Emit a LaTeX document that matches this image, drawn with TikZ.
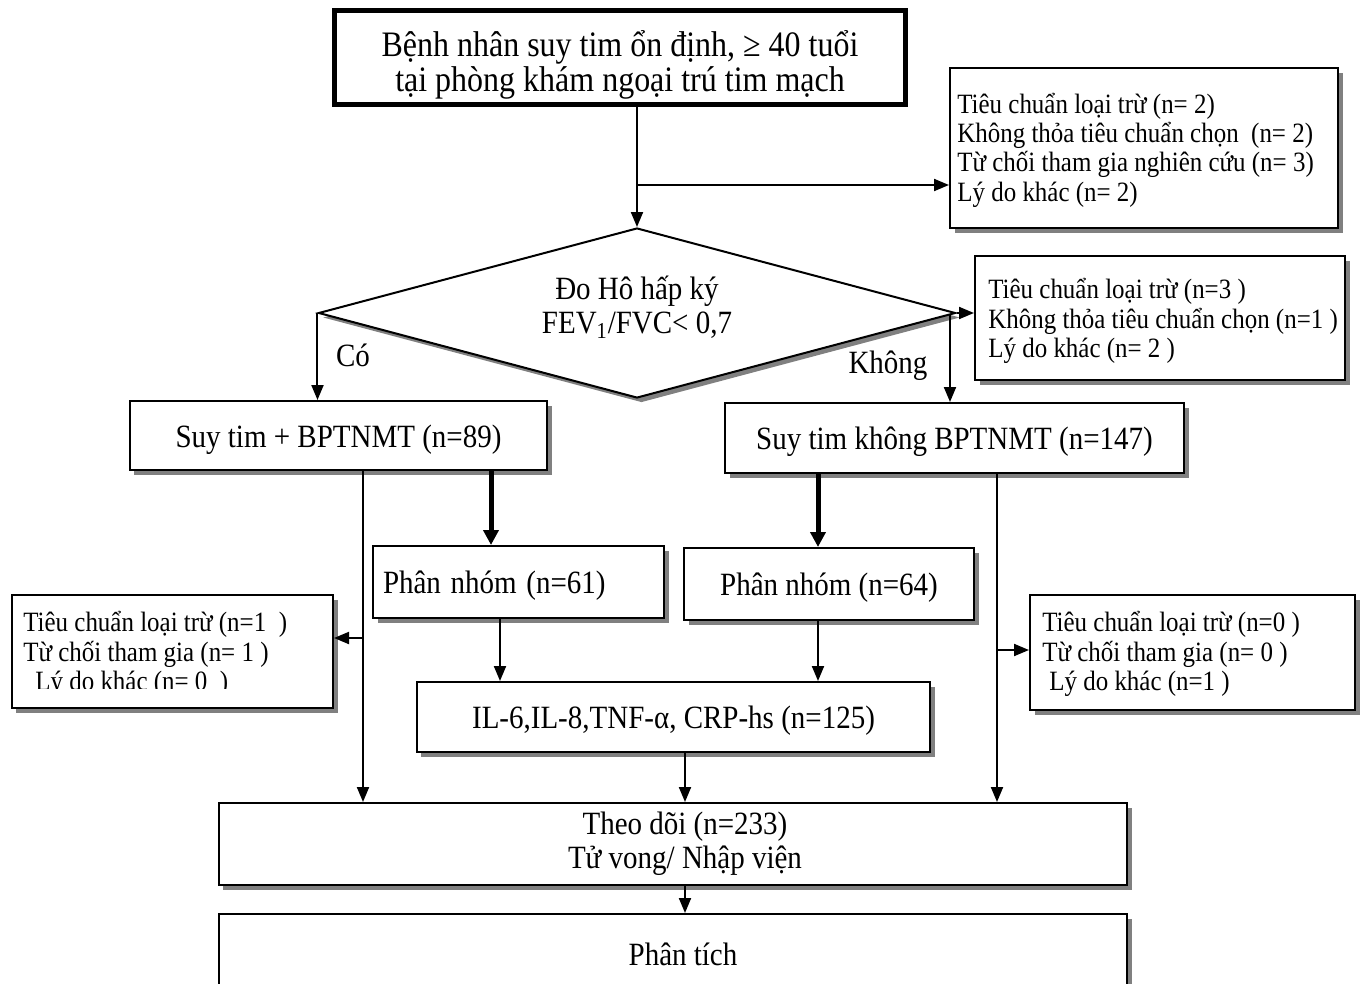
\documentclass[tikz,border=0pt]{standalone}
\usepackage{fontspec}
\usepackage{graphicx}
\setmainfont{Liberation Serif}
\usetikzlibrary{arrows.meta,shapes.geometric,shadows}
\newcommand\vsq[2][0.8mm]{\raisebox{-#1}[\height][\depth]{\scalebox{1}[1.12]{#2}}}
\lineskiplimit=-100pt
\begin{document}
\begin{tikzpicture}[x=0.2mm,y=-0.2mm,
  shadowed/.style={drop shadow={shadow xshift=0.9mm,shadow yshift=-0.9mm,fill=black!50,opacity=1}},
  box/.style={draw,line width=0.4mm,fill=white,shadowed,inner sep=0pt,align=center},
  topbox/.style={draw,line width=1mm,fill=white,inner sep=0pt,align=center,
    drop shadow={shadow xshift=0.5mm,shadow yshift=-0.5mm,fill=black,opacity=1}},
  bigf/.style={font=\fontsize{18.2pt}{19.9pt}\selectfont},
  midf/.style={font=\fontsize{16.5pt}{19.4pt}\selectfont},
  smallf/.style={font=\fontsize{14.2pt}{16.7pt}\selectfont},
  txt/.style={inner sep=0pt,align=left,anchor=west,smallf},
  conn/.style={line width=0.4mm,-{Triangle[length=3mm,width=2.4mm]}},
  thickconn/.style={line width=1mm,-{Triangle[length=3mm,width=3mm]}},
  lbl/.style={inner sep=0pt,midf}
]
\useasboundingbox (0,0) rectangle (1365,984);
\clip (0,0) rectangle (1365,984);

% main boxes
\node[topbox,bigf,minimum width=114mm,minimum height=18.8mm] (top) at (620,57)
  {\vsq[1.6mm]{Bệnh nhân suy tim ổn định, ≥ 40 tuổi}\\ \vsq[1.6mm]{tại phòng khám ngoại trú tim mạch}};
\node[diamond,aspect=3.75,draw,line width=0.4mm,fill=white,shadowed,inner sep=0pt,align=center,midf,
  minimum width=127.4mm,minimum height=34mm] (dia) at (637,313)
  {\vsq[-1.1mm]{Đo Hô hấp ký}\\ \vsq[-1.1mm]{FEV\textsubscript{1}/FVC< 0,7}};
\node[box,midf,minimum width=83.4mm,minimum height=13.8mm] (L) at (338.5,435.5) {\vsq{Suy tim + BPTNMT (n=89)}};
\node[box,midf,minimum width=91.8mm,minimum height=14mm] (R) at (954.5,438) {\vsq{Suy tim không BPTNMT (n=147)}};
\node[box,midf,minimum width=58.2mm,minimum height=14.4mm,text width=54.2mm,inner xsep=2mm,align=left] (P1) at (518.5,582) {\vsq{Phân nhóm (n=61)}};
\node[box,midf,minimum width=58mm,minimum height=14.4mm] (P2) at (829,584) {\vsq{Phân nhóm (n=64)}};
\node[box,midf,minimum width=102.6mm,minimum height=14mm] (IL) at (673.5,717) {\vsq{IL-6,IL-8,TNF-α, CRP-hs (n=125)}};
\node[box,midf,minimum width=181.6mm,minimum height=16.4mm] (T) at (673,844)
  {\hspace*{4.8mm}\vsq[0mm]{Theo dõi (n=233)}\\ \hspace*{4.8mm}\vsq[0mm]{Tử vong/ Nhập viện}};
\node[box,midf,minimum width=181.6mm,minimum height=16.4mm] (A) at (673,955) {\hspace*{4mm}\vsq[-0.2mm]{Phân tích}};

% exclusion boxes
\node[box,minimum width=77.6mm,minimum height=32mm] (ex1) at (1144,148) {};
\node[txt,xshift=1.6mm] (ex1t) at (ex1.west)
  {\vsq[0.4mm]{Tiêu chuẩn loại trừ (n= 2)}\\ \vsq[0.4mm]{Không thỏa tiêu chuẩn chọn~ (n= 2)}\\ \vsq[0.4mm]{Từ chối tham gia nghiên cứu (n= 3)}\\ \vsq[0.4mm]{Lý do khác (n= 2)}};
\node[box,minimum width=74mm,minimum height=24.8mm] (ex2) at (1160,318) {};
\node[txt,xshift=2.8mm] (ex2t) at (ex2.west)
  {\vsq[0.6mm]{Tiêu chuẩn loại trừ (n=3 )}\\ \vsq[0.6mm]{Không thỏa tiêu chuẩn chọn (n=1 )}\\ \vsq[0.6mm]{Lý do khác (n= 2 )}};
\node[box,minimum width=64.2mm,minimum height=22.6mm] (ex3) at (172.5,651.5) {};
\begin{scope}
\clip (12,595) rectangle (333,688);
\node[txt,xshift=2.4mm] (ex3t) at (ex3.west)
  {\vsq[0.5mm]{Tiêu chuẩn loại trừ (n=1~~)}\\ \vsq[0.5mm]{Từ chối tham gia (n= 1 )}\\ \hspace*{2.4mm}\vsq[0.5mm]{Lý do khác (n= 0~~)}};
\end{scope}
\node[box,minimum width=65mm,minimum height=23mm] (ex4) at (1192.5,652.5) {};
\node[txt,xshift=2.6mm] (ex4t) at (ex4.west)
  {\vsq[0.3mm]{Tiêu chuẩn loại trừ (n=0 )}\\ \vsq[0.3mm]{Từ chối tham gia (n= 0 )}\\ \hspace*{1.4mm}\vsq[0.3mm]{Lý do khác (n=1 )}};

% labels
\node[lbl] (co) at (353,355) {\vsq[0mm]{Có}};
\node[lbl] (kh) at (888,366) {\vsq[0mm]{Không}};

% helper coordinates
\coordinate (b1) at (637,185);
\coordinate (k) at (950,314);
\coordinate (cL) at (363,638);
\coordinate (cR) at (997,650);
\coordinate (tL) at (491,0);
\coordinate (tR) at (818,0);
\coordinate (pL) at (500,0);
\coordinate (m) at (685,0);

% connectors
\draw[conn] (top.south -| dia.north) -- (dia.north);
\draw[conn] (b1) -- (b1 -| ex1.west);
\draw[conn] (dia.east) -- (dia.east -| ex2.west);
\draw[conn] (dia.west) -- (dia.west |- L.north);
\draw[conn] (k) -- (k |- R.north);
\draw[conn] (L.south -| cL) -- (T.north -| cL);
\draw[conn] (cL) -- (cL -| ex3.east);
\draw[conn] (R.south -| cR) -- (T.north -| cR);
\draw[conn] (cR) -- (cR -| ex4.west);
\draw[thickconn] (L.south -| tL) -- (P1.north -| tL);
\draw[thickconn] (R.south -| tR) -- (P2.north -| tR);
\draw[conn] (P1.south -| pL) -- (IL.north -| pL);
\draw[conn] (P2.south -| tR) -- (IL.north -| tR);
\draw[conn] (IL.south -| m) -- (T.north -| m);
\draw[conn] (T.south -| m) -- (A.north -| m);
\end{tikzpicture}
\end{document}
